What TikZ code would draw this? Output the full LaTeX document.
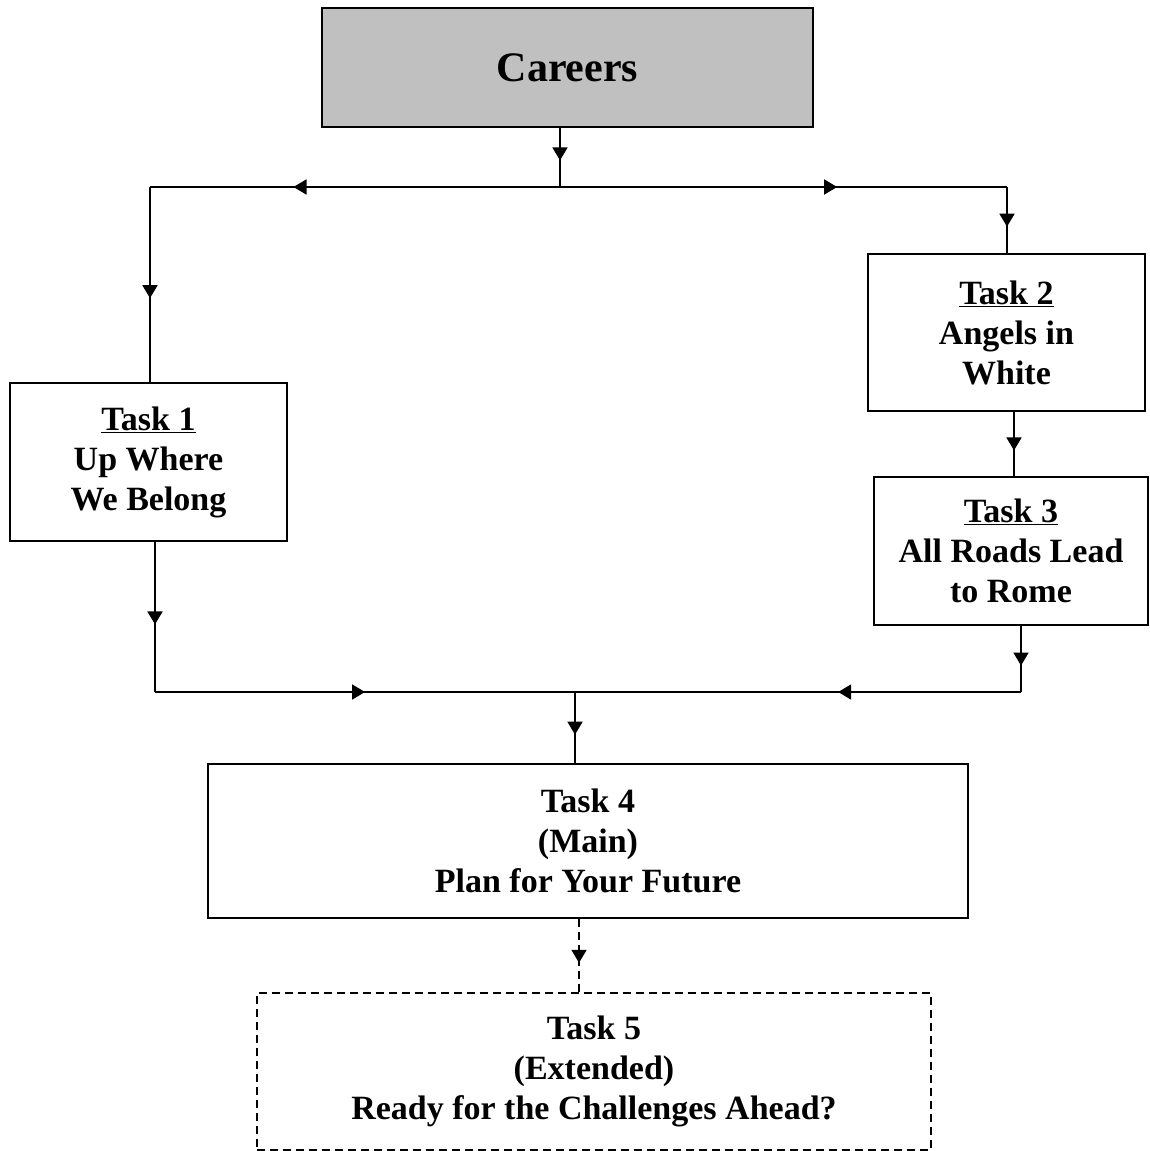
\documentclass[tikz,border=0pt]{standalone}
\usepackage{fontspec}
\setmainfont{Liberation Serif}
\usetikzlibrary{decorations.markings,arrows.meta}
\begin{document}
\begin{tikzpicture}[x=1pt,y=1pt,
  box/.style={draw=black,line width=1.8pt,rectangle,inner sep=0pt,align=center,
    font=\fontsize{34}{40}\selectfont\bfseries},
  conn/.style={draw=black,line width=1.8pt},
  dconn/.style={conn,dash pattern=on 8pt off 5pt},
  midarrow/.style={postaction={decorate,decoration={markings,
    mark=at position #1 with {\arrow{Triangle[width=15pt,length=13pt]}}}}}
]
\useasboundingbox (0,0) rectangle (1150,-1151);
\node[box,fill={rgb,255:red,192;green,192;blue,192},minimum width=491pt,minimum height=119pt,
  font=\fontsize{42}{48}\selectfont\bfseries] (careers) at (567.5,-67.5) {Careers};
\node[box,minimum width=277pt,minimum height=158pt] (t1) at (148.5,-462)
  {\underline{Task 1}\\Up Where\\We Belong};
\node[box,minimum width=277pt,minimum height=157pt] (t2) at (1006.5,-332.5)
  {\underline{Task 2}\\Angels in\\White};
\node[box,minimum width=274pt,minimum height=148pt] (t3) at (1011,-551)
  {\underline{Task 3}\\All Roads Lead\\to Rome};
\node[box,minimum width=760pt,minimum height=154pt] (t4) at (588,-841)
  {Task 4\\(Main)\\Plan for Your Future};
\node[box,dash pattern=on 8pt off 5pt,minimum width=674pt,minimum height=157pt] (t5) at (594,-1071.5)
  {Task 5\\(Extended)\\Ready for the Challenges Ahead?};
\coordinate (c0) at (560,-187);
\coordinate (tl) at (150,-187);
\coordinate (tr) at (1007,-187);
\coordinate (bl) at (155,-692);
\coordinate (br) at (1021,-692);
\coordinate (bm) at (575,-692);
\draw[conn,midarrow=0.55] (careers.south -| c0) -- (c0);
\draw[conn,midarrow=0.65] (c0) -- (tl);
\draw[conn,midarrow=0.57] (tl) -- (t1.north -| tl);
\draw[conn,midarrow=0.62] (c0) -- (tr);
\draw[conn,midarrow=0.6] (tr) -- (t2.north -| tr);
\draw[conn,midarrow=0.6] (t2.south -| 1014,0) -- (t3.north -| 1014,0);
\draw[conn,midarrow=0.55] (t1.south -| bl) -- (bl);
\draw[conn,midarrow=0.5] (bl) -- (bm);
\draw[conn,midarrow=0.6] (t3.south -| br) -- (br);
\draw[conn,midarrow=0.41] (br) -- (bm);
\draw[conn,midarrow=0.6] (bm) -- (t4.north -| bm);
\draw[dconn,midarrow=0.6] (t4.south -| 579,0) -- (t5.north -| 579,0);
\end{tikzpicture}
\end{document}
